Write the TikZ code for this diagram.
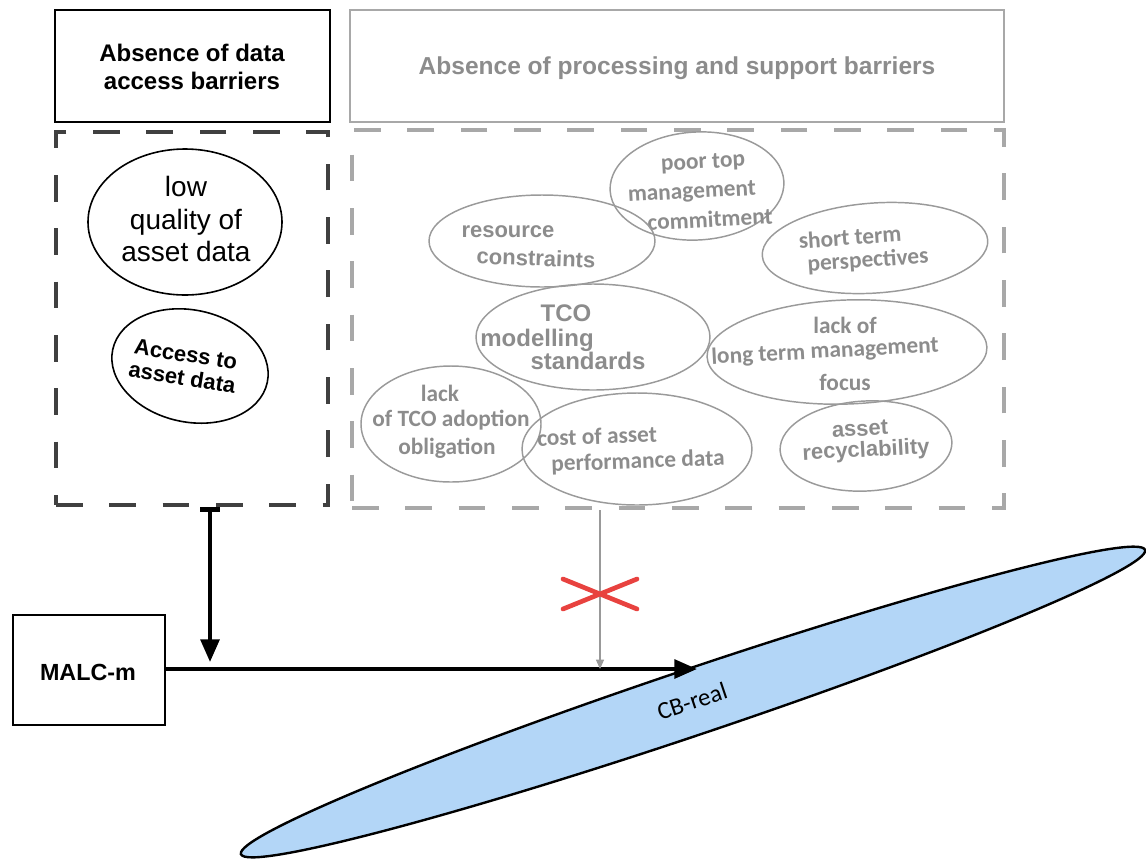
\documentclass[tikz,border=0pt]{standalone}
\usepackage{fontspec}
\setmainfont{Liberation Sans}
\newfontfamily\calibri{Carlito}
\usetikzlibrary{arrows.meta,shapes.geometric}
\definecolor{boxgray}{HTML}{A8A8A8}
\definecolor{txtgray}{HTML}{8C8C8C}
\definecolor{bubgray}{HTML}{9A9A9A}
\definecolor{dashdark}{HTML}{404040}
\definecolor{cbblue}{HTML}{B3D6F7}
\definecolor{crossred}{HTML}{E8423F}
\begin{document}
\begin{tikzpicture}[x=0.75pt,y=-0.75pt,
  hdrbox/.style={draw, rectangle, inner sep=0pt},
  grpbox/.style={rectangle, inner sep=0pt, line width=3pt, dash pattern=on 20pt off 20pt},
  bub/.style={draw=bubgray, ellipse, inner sep=0pt, line width=1.1pt},
  blackbub/.style={draw=black, ellipse, inner sep=0pt, line width=1.2pt},
  gtxt/.style={text=txtgray, inner sep=0pt, font=\calibri\bfseries\fontsize{17.5}{19}\selectfont},
  atxt/.style={text=txtgray, inner sep=0pt, font=\bfseries\fontsize{16.5}{19}\selectfont},
  thick arrow/.style={line width=3pt, -{Triangle[length=17pt,width=14pt]}},
]
\useasboundingbox (0,0) rectangle (1146,858);

% header boxes
\node[hdrbox, line width=1.5pt, minimum width={275*0.75pt}, minimum height={112*0.75pt}]
  (hdrL) at (192.5,66) {};
\node[align=center, font=\bfseries\fontsize{18}{20.5}\selectfont] (hdrLt) at (192,67)
  {Absence of data\\access barriers};
\node[hdrbox, draw=boxgray, line width=1.2pt, minimum width={654*0.75pt}, minimum height={112*0.75pt}]
  (hdrR) at (677,66) {};
\node[text=txtgray, font=\bfseries\fontsize{18.4}{20}\selectfont] (hdrRt) at (677,68)
  {Absence of processing and support barriers};

% dashed group frames
\node[grpbox, draw=dashdark, minimum width={272*0.75pt}, minimum height={373*0.75pt}]
  (grpL) at (192,318.5) {};
\node[grpbox, draw=boxgray, minimum width={652*0.75pt}, minimum height={378*0.75pt}]
  (grpR) at (678,319) {};

% data access barriers
\node[blackbub, minimum width={194*0.75pt}, minimum height={146*0.75pt}] (lq) at (185,222) {};
\node[align=center, font=\fontsize{21}{24.5}\selectfont] (lqt) at (186,219)
  {low\\quality of\\asset data};
\node[blackbub, rotate=-12, minimum width={158*0.75pt}, minimum height={112*0.75pt}] (acc) at (190,366) {};
\node[align=center, rotate=-9, font=\bfseries\fontsize{16.5}{17.5}\selectfont] (acct) at (184,366)
  {Access to\\asset data};

% processing and support barriers
\node[bub, rotate=3, minimum width={174*0.75pt}, minimum height={108*0.75pt}] (ptm) at (697,186) {};
\node[gtxt, rotate=3] (ptm1) at (703,163) {poor top};
\node[gtxt, rotate=3] (ptm2) at (692,193) {management};
\node[gtxt, rotate=3] (ptm3) at (710,219) {commitment};

\node[bub, minimum width={226*0.75pt}, minimum height={92*0.75pt}] (rc) at (542,241) {};
\node[atxt] (rc1) at (508,232) {resource};
\node[atxt, rotate=-2] (rc2) at (536,258) {constraints};

\node[bub, rotate=4, minimum width={226*0.75pt}, minimum height={90*0.75pt}] (stp) at (875,248) {};
\node[gtxt, rotate=4] (stp1) at (850,237) {short term};
\node[gtxt, rotate=4] (stp2) at (868,261) {perspectives};

\node[bub, minimum width={234*0.75pt}, minimum height={106*0.75pt}] (tco) at (593,337) {};
\node[atxt, font=\bfseries\fontsize{18}{20}\selectfont] (tco1) at (566,313) {TCO};
\node[atxt, font=\bfseries\fontsize{18}{20}\selectfont] (tco2) at (537,340) {modelling};
\node[atxt, font=\bfseries\fontsize{18}{20}\selectfont] (tco3) at (588,361) {standards};

\node[bub, rotate=2, minimum width={280*0.75pt}, minimum height={104*0.75pt}] (ltm) at (847,352) {};
\node[gtxt] (ltm1) at (845,325) {lack of};
\node[gtxt, rotate=3] (ltm2) at (825,352) {long term management};
\node[gtxt] (ltm3) at (845,382) {focus};

\node[bub, minimum width={180*0.75pt}, minimum height={116*0.75pt}] (tad) at (451,424) {};
\node[gtxt] (tad1) at (440,393) {lack};
\node[gtxt] (tad2) at (451,420) {of TCO adoption};
\node[gtxt] (tad3) at (447,448) {obligation};

\node[bub, minimum width={230*0.75pt}, minimum height={112*0.75pt}] (cap) at (637,449) {};
\node[gtxt, rotate=2] (cap1) at (597,436) {cost of asset};
\node[gtxt, rotate=2] (cap2) at (638,462) {performance data};

\node[bub, rotate=3, minimum width={172*0.75pt}, minimum height={90*0.75pt}] (rcy) at (866,446) {};
\node[atxt, rotate=3] (rcy1) at (860,429) {asset};
\node[atxt, rotate=3] (rcy2) at (866,451) {recyclability};

% outcome
\node[ellipse, draw, line width=1.8pt, fill=cbblue, rotate=18.6, inner sep=0pt,
  minimum width={954*0.75pt}, minimum height={66*0.75pt}] (cb) at (693,702) {};
\node[rotate=18.6, inner sep=0pt, font=\calibri\fontsize{18.5}{20}\selectfont] (cbt) at (692,701) {CB-real};

\node[hdrbox, line width=1.5pt, minimum width={152*0.75pt}, minimum height={110*0.75pt}]
  (malc) at (89,670) {};
\node[font=\bfseries\fontsize{17.5}{19}\selectfont] (malct) at (88,672) {MALC-m};

% connectors
\coordinate (jL) at (210,662);
\coordinate (tipH) at (697,669);
\coordinate (jR) at (600,669);
\coordinate (xc) at (600,594);

\draw[line width=3pt, {Bar[width=15pt,line width=4pt]}-{Triangle[length=17pt,width=14pt]}]
  (jL |- grpL.south) -- (jL);
\draw[thick arrow] (malc.east |- tipH) -- (tipH);
\draw[draw=gray!80, line width=0.8pt, -{Triangle[length=7pt,width=6pt]}]
  (jR |- grpR.south) -- (jR);
\draw[crossred, line width=3.5pt, line cap=round]
  (xc) ++(-37,-15) -- ++(74,30)
  (xc) ++(-37,15) -- ++(74,-30);
\end{tikzpicture}
\end{document}
